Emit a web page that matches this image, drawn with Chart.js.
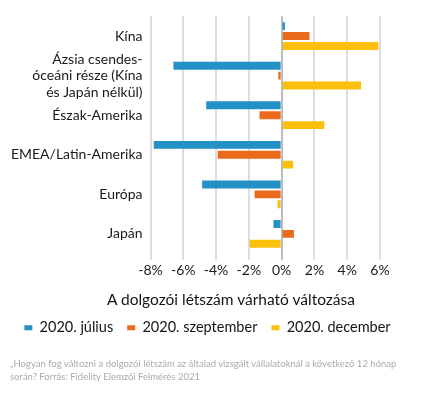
<!DOCTYPE html>
<html>
<head>
<meta charset="utf-8">
<script src="https://cdn.jsdelivr.net/npm/chart.js@4"></script>
<style>
    body { margin: 0; background: #fff; font-family: Lato, sans-serif; }
    .wrap { position: relative; width: 425px; height: 393px; }
    #chart { position: absolute; left: 0; top: 0; }
    .axis-title { position: absolute; left: 0; width: 462px; top: 290px; text-align: center; font-size: 15.5px; color: #141414; }
    .note { position: absolute; left: 10px; top: 357px; width: 400px; font-size: 9.5px; line-height: 13px; color: #ababab; }
</style>
</head>
<body>
<div class="wrap">
    <canvas id="chart" width="425" height="393"></canvas>
    <div class="axis-title">A dolgozói létszám várható változása</div>
    <div class="note">„Hogyan fog változni a dolgozói létszám az általad vizsgált vállalatoknál a következő 12 hónap során? Forrás: Fidelity Elemzői Felmérés 2021</div>
</div>
<script>
// categories and series (percent change)
const regions = ['Kína', ['Ázsia csendes-', 'óceáni része (Kína', 'és Japán nélkül)'], 'Észak-Amerika', 'EMEA/Latin-Amerika', 'Európa', 'Japán'];
const july = [0.2, -6.6, -4.6, -7.8, -4.85, -0.5];
const september = [1.7, -0.2, -1.35, -3.9, -1.65, 0.75];
const december = [5.9, 4.85, 2.6, 0.7, -0.25, -1.95];
const xTicks = [-8, -6, -4, -2, 0, 2, 4, 6];

const ctx = document.getElementById('chart');

new Chart(ctx, {
    type: 'bar',
    data: {
        labels: regions,
        datasets: [
            { label: '2020. július', data: july, backgroundColor: '#2491c4' },
            { label: '2020. szeptember', data: september, backgroundColor: '#e86a1a' },
            { label: '2020. december', data: december, backgroundColor: '#fbbf0c' }
        ]
    },
    options: {
        indexAxis: 'y',
        responsive: false,
        animation: false,
        categoryPercentage: 0.75,
        barPercentage: 0.8,
        layout: { padding: { top: 13, left: 0, right: 10, bottom: 48 } },
        scales: {
            x: {
                min: -8,
                max: 6,
                afterBuildTicks: axis => { axis.ticks = xTicks.map(v => ({ value: v })); },
                afterFit: axis => { axis.height += 26; },
                border: { display: false },
                grid: {
                    color: c => c.tick && c.tick.value === 0 ? '#b9bcc4' : '#dcdce2',
                    lineWidth: 2,
                    tickLength: 6
                },
                ticks: {
                    color: '#1a1a1a',
                    font: { family: 'Lato', size: 14 },
                    padding: 2,
                    callback: v => v + '%'
                }
            },
            y: {
                afterFit: axis => { axis.width = 150.5; },
                border: { display: false },
                grid: { display: false, drawTicks: false },
                ticks: {
                    autoSkip: false,
                    color: '#1a1a1a',
                    padding: 8,
                    font: { family: 'Lato', size: 14, lineHeight: 1.18 }
                }
            },
            // empty right-hand axis, only keeps room beside the plot
            spacer: {
                type: 'linear',
                axis: 'y',
                position: 'right',
                afterFit: axis => { axis.width = 35; },
                border: { display: false },
                grid: { display: false },
                ticks: { display: false }
            }
        },
        plugins: {
            legend: {
                position: 'bottom',
                labels: {
                    boxWidth: 8,
                    boxHeight: 5,
                    padding: 14,
                    color: '#141414',
                    font: { family: 'Lato', size: 14.5 }
                }
            },
            tooltip: { enabled: false }
        }
    }
});
</script>
</body>
</html>
